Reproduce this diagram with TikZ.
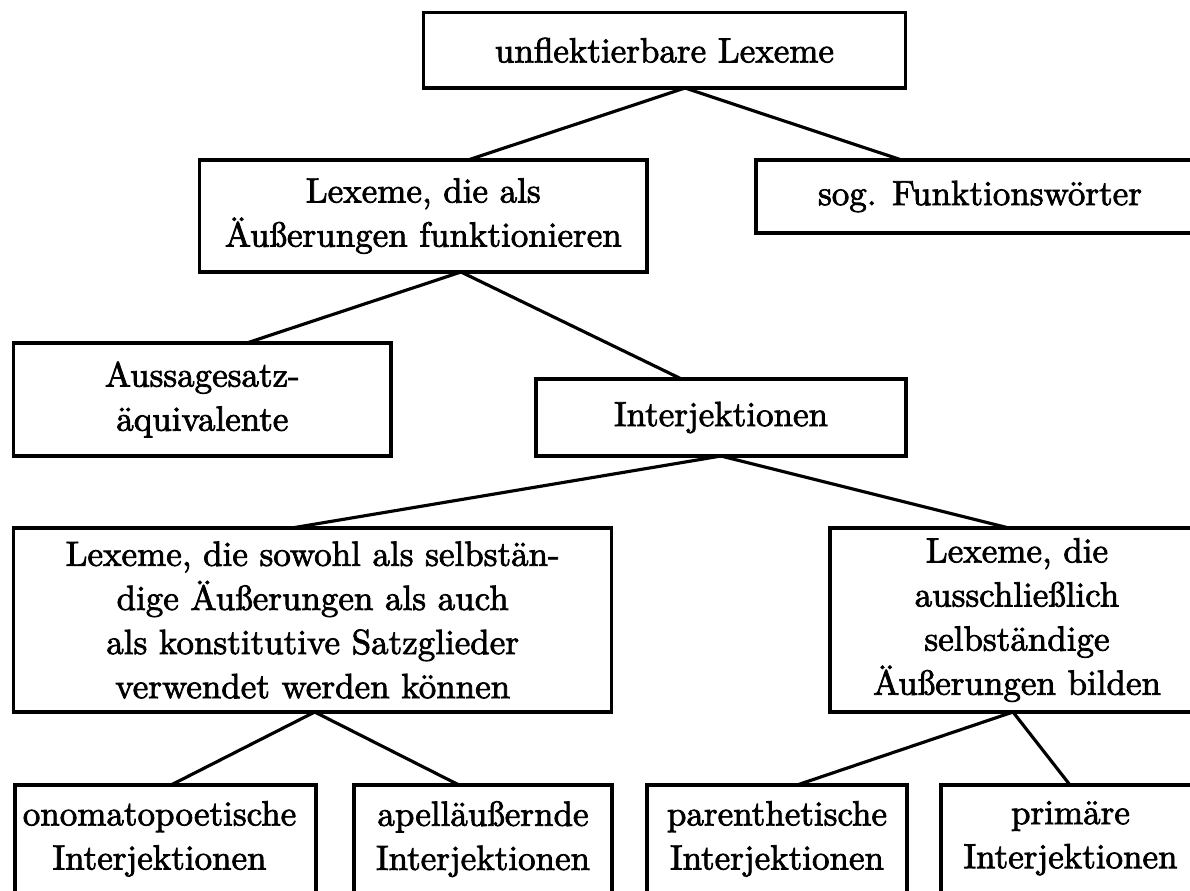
\documentclass[tikz,border=0pt]{standalone}
\usepackage{fontspec}
\usetikzlibrary{calc}
% heavier Latin Modern for all labels
\newfontfamily\lexfont{lmroman10-regular.otf}[FakeBold=2.2]
% one drawing unit = 0.2857pt
\newcommand\pxu{0.2857pt}
\tikzset{
  lexbox/.style 2 args={draw, line width=0.9pt, rectangle, anchor=north west,
    inner sep=0pt, outer sep=0pt, align=center,
    minimum width=#1*\pxu, minimum height=#2*\pxu},
  openbox/.style={draw, line width=0.9pt, rectangle, anchor=north west,
    inner xsep=0pt, inner ysep=4.6pt, outer sep=0pt, align=center,
    minimum width=#1*\pxu},
  branch/.style={line width=0.9pt},
}
\begin{document}
\begin{tikzpicture}[x=\pxu, y=-\pxu, font=\lexfont\fontsize{10pt}{12.6pt}\selectfont]
\useasboundingbox (0,0) rectangle (1190,890);
\clip (0,0) rectangle (1190,890);

% level 0
\node[lexbox={482}{75.5}] (root) at (423.5,12.5) {unflektierbare Lexeme};

% level 1
\node[lexbox={447.4}{112}] (als) at (199.6,160) {Lexeme, die als\\Äußerungen funktionieren};
\node[lexbox={448}{73}] (sog) at (756,160) {sog. Funktionswörter};

% level 2
\node[lexbox={377.3}{113}] (aussage) at (13.7,343) {Aussagesatz-\\äquivalente};
\node[lexbox={370}{77}] (interj) at (536,379) {Interjektionen};

% level 3
\node[lexbox={598}{184}] (sowohl) at (13.7,528)
  {Lexeme, die sowohl als selbstän-\\dige Äußerungen als auch\\als konstitutive Satzglieder\\verwendet werden können};
\node[lexbox={374}{184}] (ausschl) at (830,528)
  {Lexeme, die\\ausschließlich\\selbständige\\Äußerungen bilden};

% level 4 (boxes run past the lower edge)
\node[openbox=301] (onomat) at (15,785)
  {onomatopoetische\kern3.4pt\\Interjektionen\kern3.4pt\rule[-20mm]{0pt}{0pt}};
\node[openbox=258] (apell) at (354,785) {apelläußernde\\Interjektionen\rule[-20mm]{0pt}{0pt}};
\node[openbox=260] (parenth) at (647,785) {parenthetische\\Interjektionen\rule[-20mm]{0pt}{0pt}};
\node[openbox=259] (prim) at (941,785) {primäre\\Interjektionen\rule[-20mm]{0pt}{0pt}};

% branches
\draw[branch] ($(root.south west)+(261.5,0)$) -- ($(als.north west)+(268.4,0)$);
\draw[branch] ($(root.south west)+(261.5,0)$) -- ($(sog.north west)+(145.6,0)$);
\draw[branch] ($(als.south west)+(261.4,0)$) -- ($(aussage.north west)+(233,0)$);
\draw[branch] ($(als.south west)+(261.4,0)$) -- ($(interj.north west)+(145.5,0)$);
\draw[branch] ($(interj.south west)+(185,0)$) -- ($(sowohl.north west)+(278,0)$);
\draw[branch] ($(interj.south west)+(185,0)$) -- ($(ausschl.north west)+(179,0)$);
\draw[branch] ($(sowohl.south west)+(301,0)$) -- ($(onomat.north west)+(156,0)$);
\draw[branch] ($(sowohl.south west)+(301,0)$) -- ($(apell.north west)+(105,0)$);
\draw[branch] ($(ausschl.south west)+(183,0)$) -- ($(parenth.north west)+(150,0)$);
\draw[branch] ($(ausschl.south west)+(183,0)$) -- ($(prim.north west)+(129,0)$);
\end{tikzpicture}
\end{document}
